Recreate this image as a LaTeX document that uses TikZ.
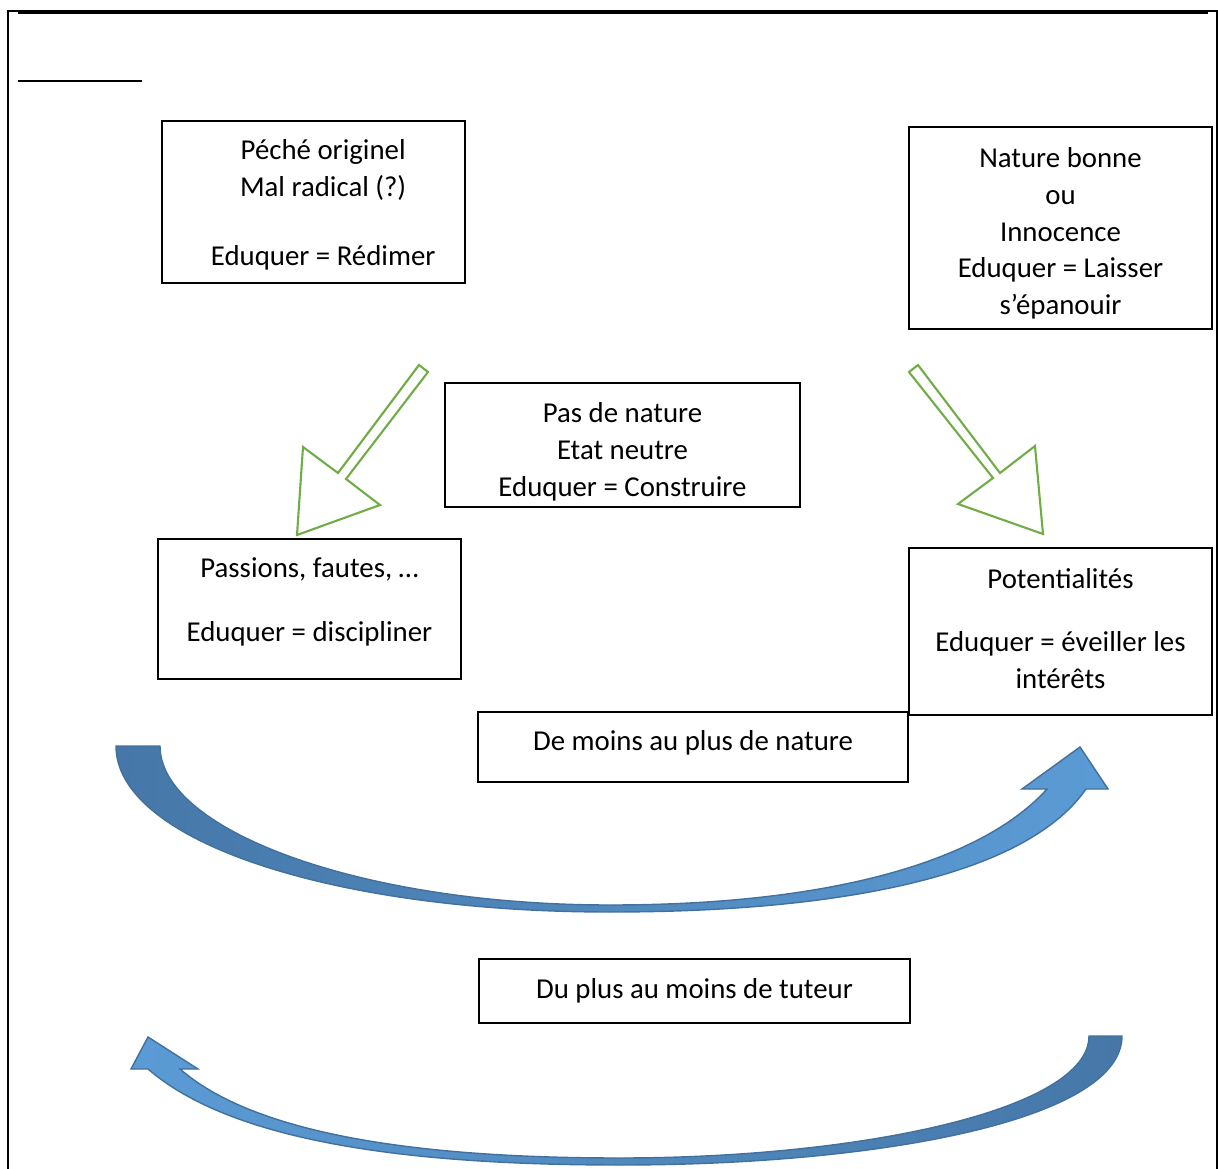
\documentclass[tikz,border=0pt]{standalone}
\usepackage{fontspec}
\setmainfont{Carlito}
\usepackage{tikz}
\usetikzlibrary{shapes.geometric, arrows}
\usepackage{xcolor}
\definecolor{leafgreen}{HTML}{70AD47}
\definecolor{skyblue}{HTML}{5B9BD5}
\definecolor{deepblue}{HTML}{4677A8}
\definecolor{edgeblue}{HTML}{41719C}
% invisible struts to nudge text up (depth) or down (height)
\newcommand{\uplift}[1]{\rule[-#1]{0pt}{0pt}}
\newcommand{\downlift}[1]{\rule{0pt}{#1}}

\begin{document}
\begin{tikzpicture}[x=0.02cm, y=-0.02cm,
    box/.style={draw, line width=1.1pt, align=center, inner sep=0pt, font=\fontsize{16.4}{21}\selectfont},
    hollow/.style={draw=leafgreen, line width=1.2pt, fill=white, line join=miter},
    swoosh/.style={draw=edgeblue, line width=0.8pt}]
    \useasboundingbox (0,0) rectangle (1218,1169);

    % Page frame
    \draw[line width=1.1pt] (8,1169) -- (8,11) -- (1217,11) -- (1217,1169);
    \draw[line width=2.3pt] (18,12) -- (1208,12);
    \draw[line width=1.4pt] (18,81) -- (142,81);

    % Boxes at the top
    \node[box, minimum width=6.06cm, minimum height=3.24cm] (peche) at (313.5,202)
        {\downlift{14.8pt}\hspace*{11pt}Péché originel\\\hspace*{11pt}Mal radical (?)\\[18pt]\hspace*{11pt}Eduquer = Rédimer};
    \node[box, minimum width=6.06cm, minimum height=4.04cm] (bonne) at (1060.5,228)
        {\downlift{17.5pt}Nature bonne\\ou\\Innocence\\Eduquer = Laisser\\s’épanouir};

    % Middle box
    \node[box, minimum width=7.1cm, minimum height=2.48cm] (neutre) at (622.5,445)
        {\downlift{19.5pt}Pas de nature\\Etat neutre\\Eduquer = Construire};

    % Green block arrows
    \draw[hollow] (419,365) -- (428,372) -- (346,479) -- (380,505) -- (297,535)
        -- (303,447) -- (338,473) -- cycle;
    \draw[hollow] (918,365) -- (909,372) -- (993,478) -- (958,504) -- (1043,534)
        -- (1035,446) -- (1000,473) -- cycle;

    % Boxes below the arrows
    \node[box, minimum width=6.06cm, minimum height=2.8cm] (passions) at (309.5,609)
        {Passions, fautes, …\\[15pt]Eduquer = discipliner\uplift{10.7pt}};
    \node[box, minimum width=8.6cm, minimum height=1.4cm] (nature) at (693,747)
        {De moins au plus de nature\uplift{7.3pt}};
    \node[box, minimum width=6.06cm, minimum height=3.34cm] (potent) at (1060.5,631.5)
        {Potentialités\\[15pt]Eduquer = éveiller les\\intérêts\uplift{3.4pt}};
    \node[box, minimum width=8.62cm, minimum height=1.28cm] (tuteur) at (694.5,991)
        {Du plus au moins de tuteur};

    % Blue curved arrows
    \path[swoosh, left color=deepblue, right color=skyblue] (116,746) -- (160,746)
        .. controls (160,830) and (360,905) .. (610,905)
        .. controls (840,905) and (985,858) .. (1047,789)
        -- (1022,789) -- (1080,747) -- (1108,789) -- (1086,789)
        .. controls (1030,870) and (860,912) .. (610,912)
        .. controls (330,912) and (116,840) .. (116,746) -- cycle;
    \path[swoosh, left color=skyblue, right color=deepblue] (1122,1036) -- (1089,1036)
        .. controls (1089,1110) and (860,1158) .. (620,1158)
        .. controls (400,1158) and (250,1130) .. (180,1069)
        -- (198,1069) -- (148,1037) -- (131,1069) -- (148,1069)
        .. controls (230,1140) and (400,1165) .. (620,1165)
        .. controls (880,1165) and (1122,1120) .. (1122,1036) -- cycle;
\end{tikzpicture}
\end{document}
